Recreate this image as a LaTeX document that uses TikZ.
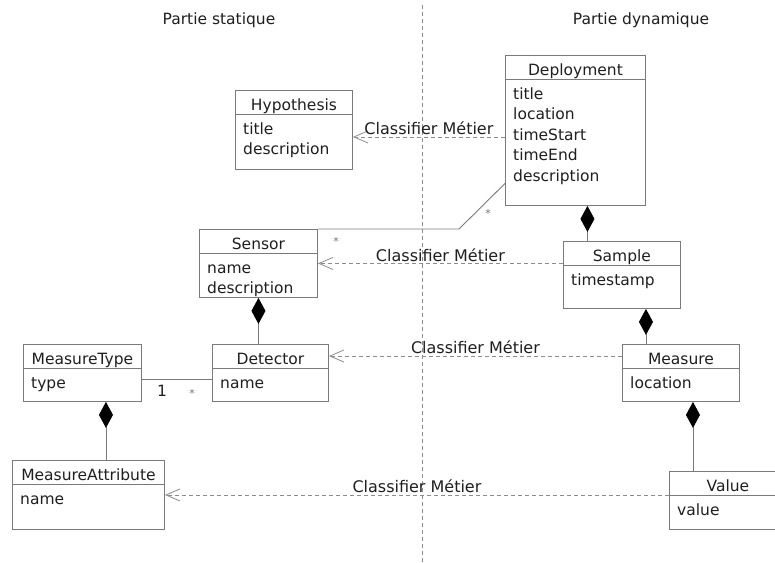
\documentclass[tikz,border=0pt]{standalone}
\usepackage{fontspec}
\setmainfont{DejaVu Sans}
\usetikzlibrary{positioning,calc,arrows.meta}
\tikzset{>=stealth}
\definecolor{boxgray}{HTML}{7A7A7A}
\definecolor{dashgray}{HTML}{8C8C8C}
\definecolor{inkgray}{HTML}{1E1E1E}
\tikzset{
  cls/.style={draw=boxgray,line width=0.9pt,inner sep=0pt,anchor=north west},
  boxline/.style={draw=boxgray,line width=0.9pt},
  ttl/.style={anchor=base,inner sep=0pt,text=inkgray},
  attr/.style={anchor=base west,inner sep=0pt,align=left,text=inkgray},
  realize/.style={draw=dashgray,line width=0.8pt,dash pattern=on 4pt off 3pt,
    -{Straight Barb[length=14pt,width=12pt]}},
  compo/.style={draw=boxgray,line width=0.9pt,
    {Diamond[length=26pt,width=14pt,fill=black,color=black]}-},
  assoc/.style={draw=boxgray,line width=0.9pt},
  lbl/.style={text=inkgray,inner sep=1pt},
  tag/.style={text=inkgray,inner sep=1.5pt,font=\fontsize{16}{19}\selectfont},
  mult/.style={text=boxgray,inner sep=0pt,font=\fontsize{11}{13}\selectfont}
}

\begin{document}
\begin{tikzpicture}[x=1pt,y=-1pt,font=\fontsize{15.5}{20.5}\selectfont]
\useasboundingbox (0,0) rectangle (775,562);
\coordinate (topcut) at (422,5);
\coordinate (botcut) at (422,562);
\draw[draw=dashgray,line width=0.7pt,dash pattern=on 4pt off 3pt] (topcut) -- (botcut);
\node[lbl] (static) at (219,20) {Partie statique};
\node[lbl] (dynamic) at (641,20) {Partie dynamique};

\node[cls,minimum width=117,minimum height=79] (hyp) at (235,90) {};
\draw[boxline] ([yshift=-24pt]hyp.north west) -- ([yshift=-24pt]hyp.north east);
\node[ttl] (hypT) at ([yshift=-20pt]hyp.north) {Hypothesis};
\node[attr] (hypA) at ([shift={(8pt,-64.5pt)}]hyp.north west) {title\\description};

\node[cls,minimum width=140,minimum height=150] (dep) at (505,55) {};
\draw[boxline] ([yshift=-24pt]dep.north west) -- ([yshift=-24pt]dep.north east);
\node[ttl] (depT) at ([yshift=-20pt]dep.north) {Deployment};
\node[attr] (depA) at ([shift={(8pt,-126pt)}]dep.north west) {title\\location\\timeStart\\timeEnd\\description};

\node[cls,minimum width=118,minimum height=68] (sen) at (199,229) {};
\draw[boxline] ([yshift=-24pt]sen.north west) -- ([yshift=-24pt]sen.north east);
\node[ttl] (senT) at ([yshift=-20pt]sen.north) {Sensor};
\node[attr] (senA) at ([shift={(8pt,-64.5pt)}]sen.north west) {name\\description};

\node[cls,minimum width=117,minimum height=67] (sam) at (563,241) {};
\draw[boxline] ([yshift=-24pt]sam.north west) -- ([yshift=-24pt]sam.north east);
\node[ttl] (samT) at ([yshift=-20pt]sam.north) {Sample};
\node[attr] (samA) at ([shift={(8pt,-44pt)}]sam.north west) {timestamp};

\node[cls,minimum width=118,minimum height=57] (mt) at (23,344) {};
\draw[boxline] ([yshift=-24pt]mt.north west) -- ([yshift=-24pt]mt.north east);
\node[ttl] (mtT) at ([yshift=-20pt]mt.north) {MeasureType};
\node[attr] (mtA) at ([shift={(8pt,-44pt)}]mt.north west) {type};

\node[cls,minimum width=116,minimum height=57] (det) at (212,344) {};
\draw[boxline] ([yshift=-24pt]det.north west) -- ([yshift=-24pt]det.north east);
\node[ttl] (detT) at ([yshift=-20pt]det.north) {Detector};
\node[attr] (detA) at ([shift={(8pt,-44pt)}]det.north west) {name};

\node[cls,minimum width=117,minimum height=57] (mea) at (622,344) {};
\draw[boxline] ([yshift=-24pt]mea.north west) -- ([yshift=-24pt]mea.north east);
\node[ttl] (meaT) at ([yshift=-20pt]mea.north) {Measure};
\node[attr] (meaA) at ([shift={(8pt,-44pt)}]mea.north west) {location};

\node[cls,minimum width=152,minimum height=69] (mat) at (12,460) {};
\draw[boxline] ([yshift=-24pt]mat.north west) -- ([yshift=-24pt]mat.north east);
\node[ttl] (matT) at ([yshift=-20pt]mat.north) {MeasureAttribute};
\node[attr] (matA) at ([shift={(8pt,-44pt)}]mat.north west) {name};

\node[cls,minimum width=117,minimum height=58] (val) at (669,471) {};
\draw[boxline] ([yshift=-24pt]val.north west) -- ([yshift=-24pt]val.north east);
\node[ttl] (valT) at ([yshift=-20pt]val.north) {Value};
\node[attr] (valA) at ([shift={(8pt,-44pt)}]val.north west) {value};

\coordinate (hypin) at ([yshift=-7pt]hyp.east);
\draw[realize] (dep.west |- hypin) -- (hypin)
  node[tag,midway,above] {Classifier Métier};
\draw[realize] (sam.west |- sen.east) -- (sen.east)
  node[tag,midway,above] {Classifier Métier};
\draw[realize] ([yshift=-12pt]mea.north west) -- ([yshift=-12pt]det.north east)
  node[tag,midway,above] {Classifier Métier};
\draw[realize] (val.west |- mat.east) -- (mat.east)
  node[tag,midway,above] {Classifier Métier};

\draw[compo] ([xshift=12pt]dep.south) -- ([xshift=12pt]dep.south |- sam.north);
\draw[compo] (sen.south) -- (sen.south |- det.north);
\draw[compo] ([xshift=24pt]sam.south) -- ([xshift=24pt]sam.south |- mea.north);
\draw[compo] ([xshift=12pt]mea.south) -- ([xshift=12pt]mea.south |- val.north);
\draw[compo] ([xshift=23.5pt]mt.south) -- ([xshift=23.5pt]mt.south |- mat.north);

\coordinate (elbow) at (459,229);
\draw[assoc] ([yshift=-53pt]dep.west) -- (elbow) -- (sen.north east);
\draw[assoc] ([yshift=-6.5pt]mt.east) -- ([yshift=-6.5pt]mt.east -| det.west);
\node[mult] (m1) at (488,213) {*};
\node[mult] (m2) at (336,241) {*};
\node[lbl] (m3) at (162,391) {1};
\node[mult] (m4) at (192,393) {*};
\end{tikzpicture}
\end{document}
